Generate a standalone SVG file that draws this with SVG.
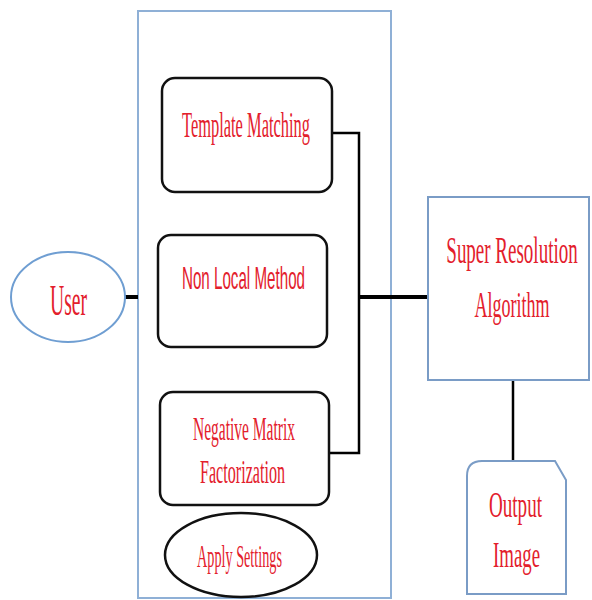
<svg xmlns="http://www.w3.org/2000/svg" width="592" height="600" viewBox="0 0 592 600">
<style>
.t{font-family:"Liberation Serif","Times New Roman",serif;fill:#e3202c;text-anchor:start}
.m{font-family:"Liberation Serif","Times New Roman",serif;fill:#e3202c;text-anchor:middle}
.s{font-family:"Liberation Sans",Arial,sans-serif;fill:#e3202c}
.rb{fill:#fff;stroke:#111;stroke-width:2.5}
.bl{fill:#fff;stroke:#7a9cc6;stroke-width:2}
.c{fill:none;stroke:#000}
</style>
<rect width="592" height="600" fill="#fff"/>
<g id="container"><rect x="138" y="11" width="253" height="587" fill="#fff" stroke="#8fb0d6" stroke-width="2"/></g>
<g id="connectors">
<line class="c" x1="125" y1="297" x2="138" y2="297" stroke-width="4"/>
<polyline class="c" points="332,133 359,133 359,453 329,453" stroke-width="2.5"/>
<line class="c" x1="359" y1="297" x2="429" y2="297" stroke-width="4"/>
<line class="c" x1="513" y1="380" x2="513" y2="462" stroke-width="2.5"/>
</g>
<g id="user">
<ellipse cx="68" cy="297" rx="57" ry="45" fill="#fff" stroke="#6f9ed2" stroke-width="2"/>
<text class="t" x="50" y="315" font-size="44" textLength="37" lengthAdjust="spacingAndGlyphs">User</text>
</g>
<g id="template">
<rect class="rb" x="162" y="78" width="170" height="114" rx="13"/>
<text class="t" x="182" y="137" font-size="35" textLength="128" lengthAdjust="spacingAndGlyphs">Template Matching</text>
</g>
<g id="nonlocal">
<rect class="rb" x="158" y="235" width="169" height="112" rx="13"/>
<text class="s" x="182" y="289" font-size="32" textLength="123" lengthAdjust="spacingAndGlyphs">Non Local Method</text>
</g>
<g id="nmf">
<rect class="rb" x="160" y="392" width="169" height="113" rx="13"/>
<text class="t" x="193" y="440" font-size="34" textLength="102" lengthAdjust="spacingAndGlyphs">Negative Matrix</text>
<text class="t" x="200" y="483" font-size="34" textLength="85" lengthAdjust="spacingAndGlyphs">Factorization</text>
</g>
<g id="apply">
<ellipse cx="241" cy="555" rx="76" ry="42" fill="#fff" stroke="#111" stroke-width="2.5"/>
<text class="t" x="197" y="567" font-size="32" textLength="85" lengthAdjust="spacingAndGlyphs">Apply Settings</text>
</g>
<g id="superres">
<rect class="bl" x="428" y="197" width="161" height="183"/>
<text class="m" transform="translate(512,263) scale(0.5,1)" font-size="38">Super Resolution</text>
<text class="m" transform="translate(512,317) scale(0.5,1)" font-size="36">Algorithm</text>
</g>
<g id="output">
<path class="bl" d="M467,476 Q467,461 482,461 L555,461 L566,480 L566,594 L467,594 Z"/>
<text class="t" x="489" y="517" font-size="36" textLength="53" lengthAdjust="spacingAndGlyphs">Output</text>
<text class="t" x="493" y="567" font-size="36" textLength="47" lengthAdjust="spacingAndGlyphs">Image</text>
</g>
</svg>
